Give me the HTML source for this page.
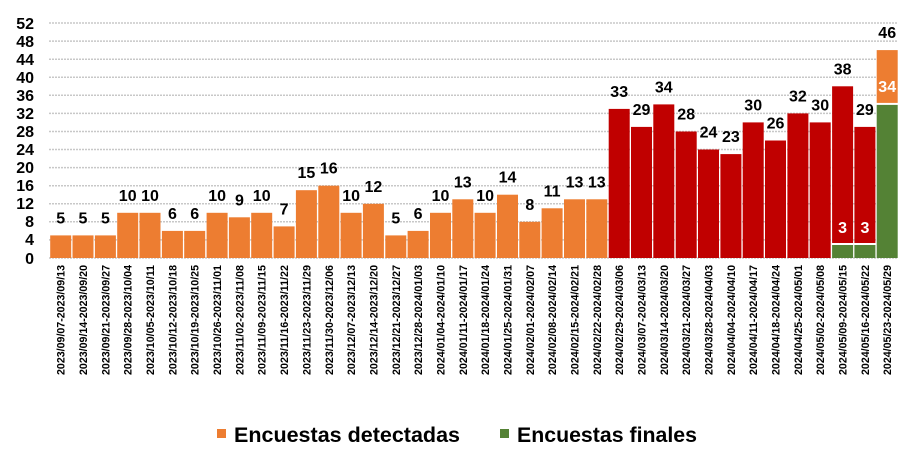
<!DOCTYPE html>
<html><head><meta charset="utf-8"><style>
html,body{margin:0;padding:0;background:#fff;}
svg{display:block;font-family:"Liberation Sans",Arial,sans-serif;font-weight:bold;}
</style></head><body>
<svg width="921" height="467" viewBox="0 0 921 467" xmlns="http://www.w3.org/2000/svg">
<g stroke="#c8c8c8" stroke-width="1.5" stroke-dasharray="2,1">
<line x1="49" x2="898" y1="23" y2="23"/><line x1="49" x2="898" y1="41.1" y2="41.1"/><line x1="49" x2="898" y1="59.2" y2="59.2"/><line x1="49" x2="898" y1="77.2" y2="77.2"/><line x1="49" x2="898" y1="95.3" y2="95.3"/><line x1="49" x2="898" y1="113.4" y2="113.4"/><line x1="49" x2="898" y1="131.5" y2="131.5"/><line x1="49" x2="898" y1="149.5" y2="149.5"/><line x1="49" x2="898" y1="167.6" y2="167.6"/><line x1="49" x2="898" y1="185.7" y2="185.7"/><line x1="49" x2="898" y1="203.8" y2="203.8"/><line x1="49" x2="898" y1="221.8" y2="221.8"/><line x1="49" x2="898" y1="239.9" y2="239.9"/><line x1="49" x2="898" y1="258" y2="258"/>
</g>
<g font-size="16" text-anchor="end" fill="#000">
<text x="34" y="29">52</text><text x="34" y="47">48</text><text x="34" y="65">44</text><text x="34" y="83">40</text><text x="34" y="101">36</text><text x="34" y="119">32</text><text x="34" y="137">28</text><text x="34" y="155">24</text><text x="34" y="173">20</text><text x="34" y="191">16</text><text x="34" y="209">12</text><text x="34" y="227">8</text><text x="34" y="245">4</text><text x="34" y="264">0</text>
</g>
<g fill="#ED7D31">
<rect x="50.2" y="235.4" width="21" height="22.6"/><rect x="72.5" y="235.4" width="21" height="22.6"/><rect x="94.9" y="235.4" width="21" height="22.6"/><rect x="117.2" y="212.8" width="21" height="45.2"/><rect x="139.5" y="212.8" width="21" height="45.2"/><rect x="161.9" y="230.9" width="21" height="27.1"/><rect x="184.2" y="230.9" width="21" height="27.1"/><rect x="206.6" y="212.8" width="21" height="45.2"/><rect x="228.9" y="217.3" width="21" height="40.7"/><rect x="251.2" y="212.8" width="21" height="45.2"/><rect x="273.6" y="226.4" width="21" height="31.6"/><rect x="295.9" y="190.2" width="21" height="67.8"/><rect x="318.3" y="185.7" width="21" height="72.3"/><rect x="340.6" y="212.8" width="21" height="45.2"/><rect x="362.9" y="203.8" width="21" height="54.2"/><rect x="385.3" y="235.4" width="21" height="22.6"/><rect x="407.6" y="230.9" width="21" height="27.1"/><rect x="430" y="212.8" width="21" height="45.2"/><rect x="452.3" y="199.3" width="21" height="58.7"/><rect x="474.6" y="212.8" width="21" height="45.2"/><rect x="497" y="194.7" width="21" height="63.3"/><rect x="519.3" y="221.8" width="21" height="36.2"/><rect x="541.6" y="208.3" width="21" height="49.7"/><rect x="564" y="199.3" width="21" height="58.7"/><rect x="586.3" y="199.3" width="21" height="58.7"/>
<rect x="876.7" y="50.1" width="21" height="52.8"/>
</g>
<g fill="#C00000">
<rect x="608.7" y="108.9" width="21" height="149.1"/><rect x="631" y="126.9" width="21" height="131.1"/><rect x="653.3" y="104.4" width="21" height="153.6"/><rect x="675.7" y="131.5" width="21" height="126.5"/><rect x="698" y="149.5" width="21" height="108.5"/><rect x="720.4" y="154.1" width="21" height="103.9"/><rect x="742.7" y="122.4" width="21" height="135.6"/><rect x="765" y="140.5" width="21" height="117.5"/><rect x="787.4" y="113.4" width="21" height="144.6"/><rect x="809.7" y="122.4" width="21" height="135.6"/><rect x="832.1" y="86.3" width="21" height="156.7"/><rect x="854.4" y="126.9" width="21" height="116.1"/>
</g>
<g fill="#548235">
<rect x="832.1" y="245" width="21" height="13"/><rect x="854.4" y="245" width="21" height="13"/><rect x="876.7" y="104.9" width="21" height="153.1"/>
</g>
<g font-size="16" text-anchor="middle" fill="#000">
<text x="60.7" y="223.4">5</text><text x="83" y="223.4">5</text><text x="105.4" y="223.4">5</text><text x="127.7" y="200.8">10</text><text x="150" y="200.8">10</text><text x="172.4" y="218.9">6</text><text x="194.7" y="218.9">6</text><text x="217.1" y="200.8">10</text><text x="239.4" y="205.3">9</text><text x="261.7" y="200.8">10</text><text x="284.1" y="214.4">7</text><text x="306.4" y="178.2">15</text><text x="328.8" y="173.7">16</text><text x="351.1" y="200.8">10</text><text x="373.4" y="191.8">12</text><text x="395.8" y="223.4">5</text><text x="418.1" y="218.9">6</text><text x="440.5" y="200.8">10</text><text x="462.8" y="187.3">13</text><text x="485.1" y="200.8">10</text><text x="507.5" y="182.7">14</text><text x="529.8" y="209.8">8</text><text x="552.1" y="196.3">11</text><text x="574.5" y="187.3">13</text><text x="596.8" y="187.3">13</text>
<text x="619.2" y="96.9">33</text><text x="641.5" y="114.9">29</text><text x="663.8" y="92.4">34</text><text x="686.2" y="119.5">28</text><text x="708.5" y="137.5">24</text><text x="730.9" y="142.1">23</text><text x="753.2" y="110.4">30</text><text x="775.5" y="128.5">26</text><text x="797.9" y="101.4">32</text><text x="820.2" y="110.4">30</text><text x="842.6" y="74.3">38</text><text x="864.9" y="114.9">29</text><text x="887.2" y="38.1">46</text>
</g>
<g font-size="16" text-anchor="middle" fill="#fff">
<text x="842.6" y="233">3</text><text x="864.9" y="233">3</text><text x="887.2" y="92">34</text>
</g>
<g font-size="11" text-anchor="end" fill="#000">
<text transform="translate(64.7,265) rotate(-90)" textLength="110" lengthAdjust="spacingAndGlyphs">2023/09/07-2023/09/13</text>
<text transform="translate(87,265) rotate(-90)" textLength="110" lengthAdjust="spacingAndGlyphs">2023/09/14-2023/09/20</text>
<text transform="translate(109.4,265) rotate(-90)" textLength="110" lengthAdjust="spacingAndGlyphs">2023/09/21-2023/09/27</text>
<text transform="translate(131.7,265) rotate(-90)" textLength="110" lengthAdjust="spacingAndGlyphs">2023/09/28-2023/10/04</text>
<text transform="translate(154,265) rotate(-90)" textLength="110" lengthAdjust="spacingAndGlyphs">2023/10/05-2023/10/11</text>
<text transform="translate(176.4,265) rotate(-90)" textLength="110" lengthAdjust="spacingAndGlyphs">2023/10/12-2023/10/18</text>
<text transform="translate(198.7,265) rotate(-90)" textLength="110" lengthAdjust="spacingAndGlyphs">2023/10/19-2023/10/25</text>
<text transform="translate(221.1,265) rotate(-90)" textLength="110" lengthAdjust="spacingAndGlyphs">2023/10/26-2023/11/01</text>
<text transform="translate(243.4,265) rotate(-90)" textLength="110" lengthAdjust="spacingAndGlyphs">2023/11/02-2023/11/08</text>
<text transform="translate(265.7,265) rotate(-90)" textLength="110" lengthAdjust="spacingAndGlyphs">2023/11/09-2023/11/15</text>
<text transform="translate(288.1,265) rotate(-90)" textLength="110" lengthAdjust="spacingAndGlyphs">2023/11/16-2023/11/22</text>
<text transform="translate(310.4,265) rotate(-90)" textLength="110" lengthAdjust="spacingAndGlyphs">2023/11/23-2023/11/29</text>
<text transform="translate(332.8,265) rotate(-90)" textLength="110" lengthAdjust="spacingAndGlyphs">2023/11/30-2023/12/06</text>
<text transform="translate(355.1,265) rotate(-90)" textLength="110" lengthAdjust="spacingAndGlyphs">2023/12/07-2023/12/13</text>
<text transform="translate(377.4,265) rotate(-90)" textLength="110" lengthAdjust="spacingAndGlyphs">2023/12/14-2023/12/20</text>
<text transform="translate(399.8,265) rotate(-90)" textLength="110" lengthAdjust="spacingAndGlyphs">2023/12/21-2023/12/27</text>
<text transform="translate(422.1,265) rotate(-90)" textLength="110" lengthAdjust="spacingAndGlyphs">2023/12/28-2024/01/03</text>
<text transform="translate(444.5,265) rotate(-90)" textLength="110" lengthAdjust="spacingAndGlyphs">2024/01/04-2024/01/10</text>
<text transform="translate(466.8,265) rotate(-90)" textLength="110" lengthAdjust="spacingAndGlyphs">2024/01/11-2024/01/17</text>
<text transform="translate(489.1,265) rotate(-90)" textLength="110" lengthAdjust="spacingAndGlyphs">2024/01/18-2024/01/24</text>
<text transform="translate(511.5,265) rotate(-90)" textLength="110" lengthAdjust="spacingAndGlyphs">2024/01/25-2024/01/31</text>
<text transform="translate(533.8,265) rotate(-90)" textLength="110" lengthAdjust="spacingAndGlyphs">2024/02/01-2024/02/07</text>
<text transform="translate(556.1,265) rotate(-90)" textLength="110" lengthAdjust="spacingAndGlyphs">2024/02/08-2024/02/14</text>
<text transform="translate(578.5,265) rotate(-90)" textLength="110" lengthAdjust="spacingAndGlyphs">2024/02/15-2024/02/21</text>
<text transform="translate(600.8,265) rotate(-90)" textLength="110" lengthAdjust="spacingAndGlyphs">2024/02/22-2024/02/28</text>
<text transform="translate(623.2,265) rotate(-90)" textLength="110" lengthAdjust="spacingAndGlyphs">2024/02/29-2024/03/06</text>
<text transform="translate(645.5,265) rotate(-90)" textLength="110" lengthAdjust="spacingAndGlyphs">2024/03/07-2024/03/13</text>
<text transform="translate(667.8,265) rotate(-90)" textLength="110" lengthAdjust="spacingAndGlyphs">2024/03/14-2024/03/20</text>
<text transform="translate(690.2,265) rotate(-90)" textLength="110" lengthAdjust="spacingAndGlyphs">2024/03/21-2024/03/27</text>
<text transform="translate(712.5,265) rotate(-90)" textLength="110" lengthAdjust="spacingAndGlyphs">2024/03/28-2024/04/03</text>
<text transform="translate(734.9,265) rotate(-90)" textLength="110" lengthAdjust="spacingAndGlyphs">2024/04/04-2024/04/10</text>
<text transform="translate(757.2,265) rotate(-90)" textLength="110" lengthAdjust="spacingAndGlyphs">2024/04/11-2024/04/17</text>
<text transform="translate(779.5,265) rotate(-90)" textLength="110" lengthAdjust="spacingAndGlyphs">2024/04/18-2024/04/24</text>
<text transform="translate(801.9,265) rotate(-90)" textLength="110" lengthAdjust="spacingAndGlyphs">2024/04/25-2024/05/01</text>
<text transform="translate(824.2,265) rotate(-90)" textLength="110" lengthAdjust="spacingAndGlyphs">2024/05/02-2024/05/08</text>
<text transform="translate(846.6,265) rotate(-90)" textLength="110" lengthAdjust="spacingAndGlyphs">2024/05/09-2024/05/15</text>
<text transform="translate(868.9,265) rotate(-90)" textLength="110" lengthAdjust="spacingAndGlyphs">2024/05/16-2024/05/22</text>
<text transform="translate(891.2,265) rotate(-90)" textLength="110" lengthAdjust="spacingAndGlyphs">2024/05/23-2024/05/29</text>
</g>
<rect x="217" y="429" width="9" height="9" fill="#ED7D31"/>
<text x="234" y="442" font-size="21" textLength="226" lengthAdjust="spacingAndGlyphs">Encuestas detectadas</text>
<rect x="500" y="429" width="9" height="9" fill="#548235"/>
<text x="517" y="442" font-size="21" textLength="180" lengthAdjust="spacingAndGlyphs">Encuestas finales</text>
</svg>
</body></html>
